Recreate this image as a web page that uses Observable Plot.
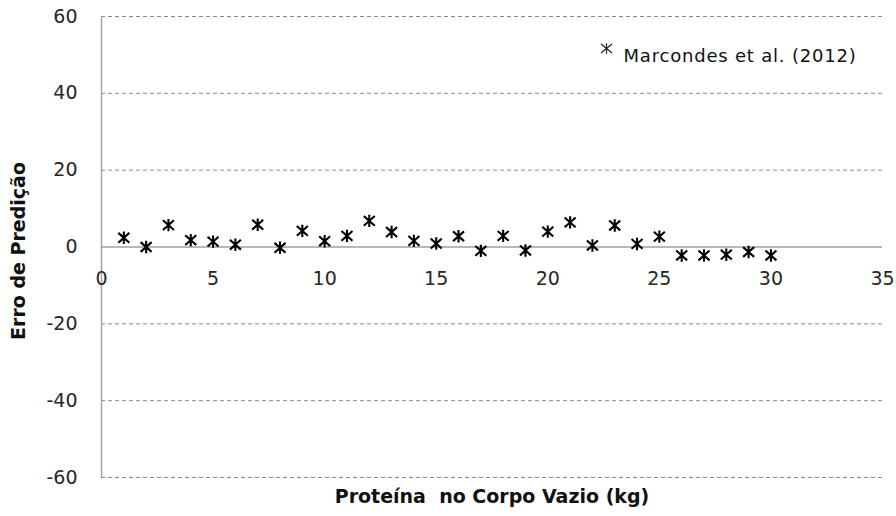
<!DOCTYPE html>
<html><head><meta charset="utf-8">
<script src="https://cdn.jsdelivr.net/npm/d3@7"></script>
<script src="https://cdn.jsdelivr.net/npm/@observablehq/plot@0.6"></script>
<style>body{margin:0;background:#fff} .legtext{letter-spacing:0.8px}</style>
</head><body><div id="chart"></div>
<script>
const proteina = [1,2,3,4,5,6,7,8,9,10,11,12,13,14,15,16,17,18,19,20,21,22,23,24,25,26,27,28,29,30];
const erro = [2.4,0,5.7,1.8,1.4,0.6,5.8,-0.2,4.2,1.5,2.9,6.8,3.9,1.6,0.9,2.8,-1.0,2.9,-0.9,4.0,6.4,0.4,5.6,0.8,2.7,-2.2,-2.2,-2.0,-1.3,-2.2];
const xTicks = [0,5,10,15,20,25,30,35];
const yTicks = [-60,-40,-20,0,20,40,60];
const seriesName = "Marcondes et al. (2012)";
const xTitle = "Proteína  no Corpo Vazio (kg)";
const yTitle = "Erro de Predição";

const data = proteina.map((x,i)=>({x, y: erro[i]}));

function makeStar(hw, hh, vh) {
  return {
    draw(ctx) {
      ctx.moveTo(0,-vh); ctx.lineTo(0,vh);
      ctx.moveTo(-hw,-hh); ctx.lineTo(hw,hh);
      ctx.moveTo(-hw,hh); ctx.lineTo(hw,-hh);
    }
  };
}
const star = makeStar(5.5, 4.9, 6.2);
const legendStar = makeStar(5.5, 4.5, 5.2);

const font = "DejaVu Sans, sans-serif";
const chart = Plot.plot({
  width: 896, height: 516,
  marginLeft: 101, marginRight: 14, marginTop: 16, marginBottom: 39,
  style: {fontFamily: font, background: "#fff"},
  x: {domain: [0,35], axis: null},
  y: {domain: [-60,60], axis: null},
  marks: [
    Plot.ruleY(yTicks.filter(d=>d!==0), {stroke:"#8a8a8a", strokeDasharray:"4,3", strokeWidth:1}),
    Plot.ruleY([0], {stroke:"#a0a0a0", strokeWidth:1.4}),
    Plot.ruleX([0], {stroke:"#a0a0a0", strokeWidth:1.4}),
    Plot.text(yTicks, {x: 0, y: d=>d, text: d=>String(d), textAnchor:"end", dx:-24, fontSize:19, fill:"#262626"}),
    Plot.text(xTicks, {x: d=>d, y: 0, text: d=>String(d), dy:32, fontSize:19, fill:"#262626"}),
    Plot.dot(data, {x:"x", y:"y", symbol: star, r:5, stroke:"#000", strokeWidth:2.1}),
    Plot.dot([seriesName], {frameAnchor:"top-right", dx:-276, dy:32, symbol: legendStar, r:5, stroke:"#222", strokeWidth:1.2}),
    Plot.text([seriesName], {frameAnchor:"top-right", text:d=>d, textAnchor:"start", dx:-259, dy:33, fontSize:18, fill:"#111", className:"legtext"}),
    Plot.text([xTitle], {frameAnchor:"bottom", text:d=>d, dy:25, fontSize:19, fontWeight:"bold", fill:"#111"}),
    Plot.text([yTitle], {frameAnchor:"left", text:d=>d, rotate:-90, textAnchor:"middle", dx:-83, dy:4, fontSize:19, fontWeight:"bold", fill:"#111"})
  ]
});
document.getElementById("chart").appendChild(chart);
</script></body></html>
